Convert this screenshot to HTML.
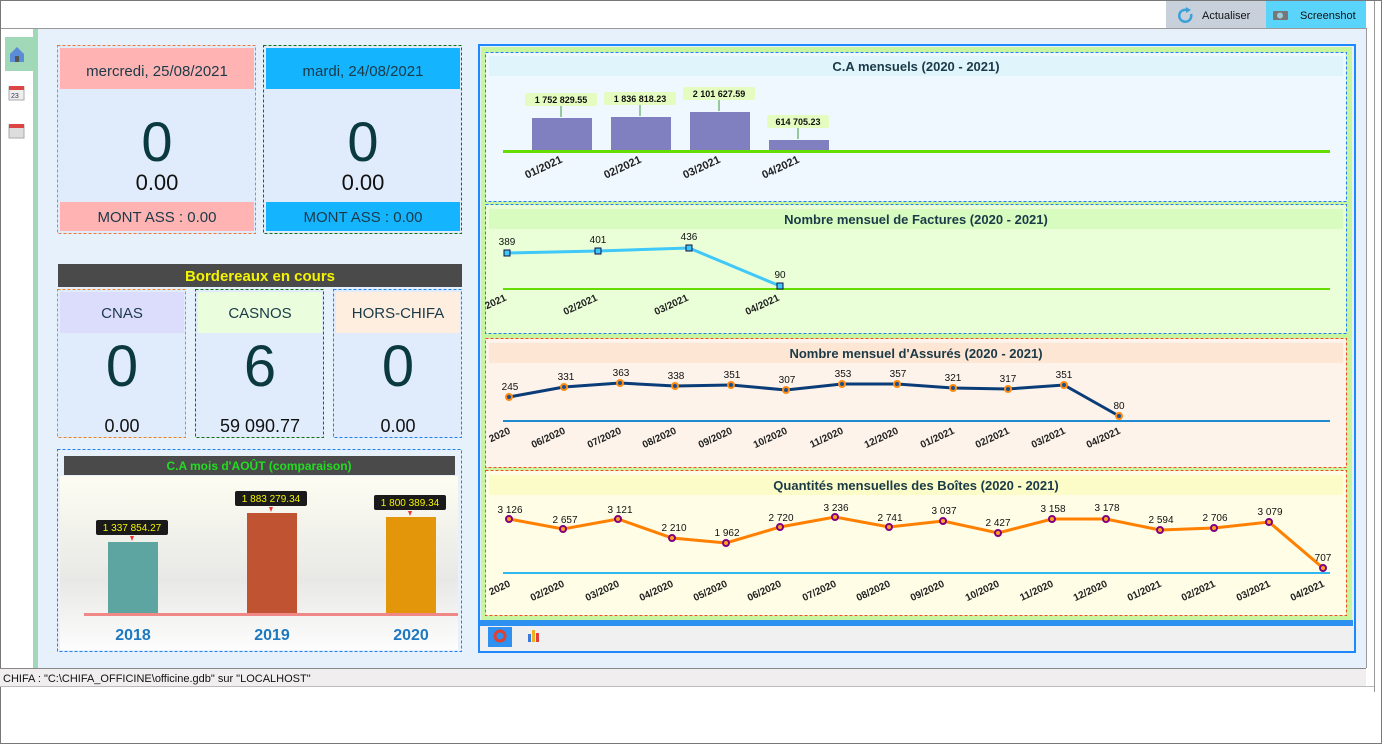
<!DOCTYPE html>
<html><head><meta charset="utf-8"><style>
html,body{margin:0;padding:0;background:#fff;width:1382px;height:744px;overflow:hidden}
svg{display:block;font-family:"Liberation Sans",sans-serif}
.xl{font-size:10px;font-weight:bold;fill:#222}
.xl1{font-size:11px;font-weight:bold;fill:#222}
.vl{font-size:10px;fill:#111}
.tt{font-size:13px;font-weight:bold;fill:#1a3a48}
</style></head><body>
<svg width="1382" height="744" viewBox="0 0 1382 744">
<defs>
<linearGradient id="g1" x1="0" y1="0" x2="0" y2="1"><stop offset="0" stop-color="#fdfdf2"/><stop offset="0.6" stop-color="#e8e8e6"/><stop offset="1" stop-color="#fdfdfd"/></linearGradient>
</defs>
<rect x="0.5" y="0.5" width="1381" height="743" fill="#fff" stroke="#777"/>
<line x1="1" y1="28.5" x2="1366" y2="28.5" stroke="#999"/>
<rect x="1166" y="1" width="100" height="27" fill="#c8d0dc"/>
<rect x="1266" y="1" width="100" height="27" fill="#5ad4fa"/>
<path d="M1187 10 a6 6 0 1 0 4 4" fill="none" stroke="#3aa0d8" stroke-width="2.5"/>
<path d="M1186 7 l5 3 l-5 3z" fill="#3aa0d8"/>
<text x="1202" y="19" font-size="11" fill="#111">Actualiser</text>
<rect x="1273" y="11" width="15" height="9" rx="1" fill="#777"/><circle cx="1280" cy="15.5" r="3" fill="#9cd"/>
<text x="1300" y="19" font-size="11" fill="#111">Screenshot</text>
<line x1="1366.5" y1="28" x2="1366.5" y2="668" stroke="#999"/>
<line x1="1374.5" y1="1" x2="1374.5" y2="692" stroke="#999"/>
<rect x="38" y="29" width="1328" height="639" fill="#e6f1fc"/>
<rect x="33" y="29" width="5" height="639" fill="#a0d8b8"/>
<rect x="5" y="37" width="28" height="34" fill="#a0d8b8"/>
<path d="M10 54 l7 -7 l7 7 v8 h-14z" fill="#5a8cd8"/><rect x="15" y="56" width="4" height="6" fill="#555"/>
<rect x="9" y="87" width="15" height="13" fill="#eee" stroke="#aaa"/><rect x="9" y="86" width="15" height="4" fill="#d44"/><text x="11" y="98" font-size="7" fill="#335">23</text>
<rect x="9" y="125" width="15" height="13" fill="#ddd" stroke="#aaa"/><rect x="9" y="124" width="15" height="4" fill="#d44"/>
<rect x="0" y="668" width="1366" height="18" fill="#f0eeee"/>
<line x1="0" y1="668.5" x2="1366" y2="668.5" stroke="#888"/>
<line x1="0" y1="686.5" x2="1374" y2="686.5" stroke="#bbb"/>
<text x="3" y="682" font-size="11" fill="#111">CHIFA : "C:\CHIFA_OFFICINE\officine.gdb" sur "LOCALHOST"</text>

<rect x="57.5" y="45.5" width="198" height="188" fill="#e0ecfc" stroke="#f07830" stroke-dasharray="3,2"/>
<rect x="60" y="48" width="194" height="41" fill="#ffb3b3"/>
<text x="157" y="76" font-size="15" fill="#1a3a48" text-anchor="middle">mercredi, 25/08/2021</text>
<text x="157" y="161" font-size="56" fill="#0a3a40" text-anchor="middle">0</text>
<text x="157" y="190" font-size="22" fill="#111" text-anchor="middle">0.00</text>
<rect x="60" y="202" width="194" height="29" fill="#ffb3b3"/>
<text x="157" y="222" font-size="15" fill="#1a3a48" text-anchor="middle">MONT ASS : 0.00</text>
<rect x="263.5" y="45.5" width="198" height="188" fill="#e0ecfc" stroke="#107010" stroke-dasharray="3,2"/>
<rect x="266" y="48" width="194" height="41" fill="#14b4ff"/>
<text x="363" y="76" font-size="15" fill="#1a3a48" text-anchor="middle">mardi, 24/08/2021</text>
<text x="363" y="161" font-size="56" fill="#0a3a40" text-anchor="middle">0</text>
<text x="363" y="190" font-size="22" fill="#111" text-anchor="middle">0.00</text>
<rect x="266" y="202" width="194" height="29" fill="#14b4ff"/>
<text x="363" y="222" font-size="15" fill="#1a3a48" text-anchor="middle">MONT ASS : 0.00</text>

<rect x="58" y="264" width="404" height="23" fill="#4a4a4a"/>
<text x="260" y="281" font-size="15" font-weight="bold" fill="#f4f400" text-anchor="middle">Bordereaux en cours</text>
<rect x="57.5" y="289.5" width="128" height="148" fill="#e0ecfc" stroke="#f08020" stroke-dasharray="3,2"/>
<rect x="60" y="292" width="124" height="41" fill="#dcdcfc"/>
<text x="122" y="318" font-size="15" fill="#1a3a48" text-anchor="middle">CNAS</text>
<text x="122" y="386" font-size="58" fill="#0a3a40" text-anchor="middle">0</text>
<text x="122" y="432" font-size="18" fill="#111" text-anchor="middle">0.00</text>
<rect x="195.5" y="289.5" width="128" height="148" fill="#e0ecfc" stroke="#107010" stroke-dasharray="3,2"/>
<rect x="198" y="292" width="124" height="41" fill="#eafddc"/>
<text x="260" y="318" font-size="15" fill="#1a3a48" text-anchor="middle">CASNOS</text>
<text x="260" y="386" font-size="58" fill="#0a3a40" text-anchor="middle">6</text>
<text x="260" y="432" font-size="18" fill="#111" text-anchor="middle">59 090.77</text>
<rect x="333.5" y="289.5" width="128" height="148" fill="#e0ecfc" stroke="#2080f0" stroke-dasharray="3,2"/>
<rect x="336" y="292" width="124" height="41" fill="#fdeee0"/>
<text x="398" y="318" font-size="15" fill="#1a3a48" text-anchor="middle">HORS-CHIFA</text>
<text x="398" y="386" font-size="58" fill="#0a3a40" text-anchor="middle">0</text>
<text x="398" y="432" font-size="18" fill="#111" text-anchor="middle">0.00</text>

<rect x="57.5" y="449.5" width="404" height="202" fill="#e6f1fc" stroke="#2080f0" stroke-dasharray="3,2"/>
<rect x="60" y="476" width="398" height="174" fill="url(#g1)"/>
<rect x="64" y="456" width="391" height="19" fill="#4a4a4a"/>
<text x="259" y="470" font-size="12" font-weight="bold" fill="#22dd22" text-anchor="middle">C.A mois d'AOÛT (comparaison)</text>
<rect x="108" y="542" width="50" height="72" fill="#5ca5a0"/>
<rect x="247" y="513" width="50" height="101" fill="#c05432"/>
<rect x="386" y="517" width="50" height="97" fill="#e4960a"/>
<rect x="84" y="613" width="374" height="3" fill="#f08888"/>
<g font-size="10" fill="#f4f400" text-anchor="middle">
<rect x="96" y="520" width="72" height="15" rx="2" fill="#1a1a1a"/><text x="132" y="531">1 337 854.27</text>
<rect x="235" y="491" width="72" height="15" rx="2" fill="#1a1a1a"/><text x="271" y="502">1 883 279.34</text>
<rect x="374" y="495" width="72" height="15" rx="2" fill="#1a1a1a"/><text x="410" y="506">1 800 389.34</text>
</g>
<g fill="#ee3333"><path d="M130 536h4l-2 5z"/><path d="M269 507h4l-2 5z"/><path d="M408 511h4l-2 5z"/></g>
<g font-size="16" font-weight="bold" fill="#1e78c0" text-anchor="middle">
<text x="133" y="640">2018</text><text x="272" y="640">2019</text><text x="411" y="640">2020</text></g>

<rect x="479" y="45" width="876" height="607" fill="#e6f1fc" stroke="#1e88ff" stroke-width="2"/>
<rect x="481" y="47" width="871" height="573" fill="#c8f5a0"/>
<rect x="480" y="620" width="873" height="6" fill="#2e90f0"/>
<rect x="480" y="626" width="873" height="25" fill="#f0f0f0"/>
<rect x="488" y="627" width="24" height="20" fill="#2e90f0"/>
<circle cx="500" cy="636" r="5" fill="none" stroke="#e04030" stroke-width="3"/>
<rect x="528" y="634" width="3" height="8" fill="#3a7ad8"/><rect x="532" y="630" width="3" height="12" fill="#f0b020"/><rect x="536" y="633" width="3" height="9" fill="#e04040"/>

<rect x="485.5" y="52.5" width="861" height="149" fill="#f0f8ff" stroke="#2080f0" stroke-dasharray="3,2"/>
<rect x="489" y="56" width="854" height="20" fill="#e0f4fc"/>
<text x="916" y="71" class="tt" text-anchor="middle">C.A mensuels (2020 - 2021)</text>
<g fill="#8080c0"><rect x="532" y="118" width="60" height="33"/><rect x="611" y="117" width="60" height="34"/><rect x="690" y="112" width="60" height="39"/><rect x="769" y="140" width="60" height="11"/></g>
<rect x="503" y="150" width="827" height="3" fill="#66dd00"/>
<g fill="#e4fcc0"><rect x="525" y="93" width="72" height="13" rx="2"/><rect x="604" y="92" width="72" height="13" rx="2"/><rect x="683" y="87" width="72" height="13" rx="2"/><rect x="767" y="115" width="62" height="13" rx="2"/></g>
<g font-size="9" font-weight="bold" fill="#111" text-anchor="middle"><text x="561" y="103">1 752 829.55</text><text x="640" y="102">1 836 818.23</text><text x="719" y="97">2 101 627.59</text><text x="798" y="125">614 705.23</text></g>
<g stroke="#3a9a3a"><line x1="561" y1="106" x2="561" y2="117"/><line x1="640" y1="105" x2="640" y2="116"/><line x1="719" y1="100" x2="719" y2="111"/><line x1="798" y1="128" x2="798" y2="139"/></g>
<g class="xl1" text-anchor="end"><text transform="translate(563,162) rotate(-25)">01/2021</text><text transform="translate(642,162) rotate(-25)">02/2021</text><text transform="translate(721,162) rotate(-25)">03/2021</text><text transform="translate(800,162) rotate(-25)">04/2021</text></g>

<rect x="485.5" y="204.5" width="861" height="129" fill="#eaffd8" stroke="#2080f0" stroke-dasharray="3,2"/>
<rect x="489" y="209" width="854" height="20" fill="#d8fcc0"/>
<text x="916" y="224" class="tt" text-anchor="middle">Nombre mensuel de Factures (2020 - 2021)</text>
<rect x="503" y="288" width="827" height="2" fill="#66dd00"/>
<polyline points="507,253 598,251 689,248 780,286" fill="none" stroke="#40c8f8" stroke-width="3"/>
<g fill="#40c8f8" stroke="#114" stroke-width="1"><rect x="504" y="250" width="6" height="6"/><rect x="595" y="248" width="6" height="6"/><rect x="686" y="245" width="6" height="6"/><rect x="777" y="283" width="6" height="6"/></g>
<g class="vl" text-anchor="middle"><text x="507" y="245">389</text><text x="598" y="243">401</text><text x="689" y="240">436</text><text x="780" y="278">90</text></g>
<g class="xl" text-anchor="end"><text transform="translate(507,300) rotate(-25)">2021</text><text transform="translate(598,300) rotate(-25)">02/2021</text><text transform="translate(689,300) rotate(-25)">03/2021</text><text transform="translate(780,300) rotate(-25)">04/2021</text></g>

<rect x="485.5" y="338.5" width="861" height="129" fill="#fdf3ea" stroke="#f05020" stroke-dasharray="3,2"/>
<rect x="489" y="343" width="854" height="20" fill="#fde6d4"/>
<text x="916" y="358" class="tt" text-anchor="middle">Nombre mensuel d'Assurés (2020 - 2021)</text>
<rect x="503" y="420" width="827" height="2" fill="#1e8ad0"/>
<polyline points="509,397 564,387 620,383 675,386 731,385 786,390 842,384 897,384 953,388 1008,389 1064,385 1119,416" fill="none" stroke="#0a3c78" stroke-width="3"/>
<g fill="#1e5090" stroke="#ff8c10" stroke-width="2"><circle cx="509" cy="397" r="3"/><circle cx="564" cy="387" r="3"/><circle cx="620" cy="383" r="3"/><circle cx="675" cy="386" r="3"/><circle cx="731" cy="385" r="3"/><circle cx="786" cy="390" r="3"/><circle cx="842" cy="384" r="3"/><circle cx="897" cy="384" r="3"/><circle cx="953" cy="388" r="3"/><circle cx="1008" cy="389" r="3"/><circle cx="1064" cy="385" r="3"/><circle cx="1119" cy="416" r="3"/></g>
<g class="vl" text-anchor="middle"><text x="510" y="390">245</text><text x="566" y="380">331</text><text x="621" y="376">363</text><text x="676" y="379">338</text><text x="732" y="378">351</text><text x="787" y="383">307</text><text x="843" y="377">353</text><text x="898" y="377">357</text><text x="953" y="381">321</text><text x="1008" y="382">317</text><text x="1064" y="378">351</text><text x="1119" y="409">80</text></g>
<g class="xl" text-anchor="end"><text transform="translate(511,433) rotate(-25)">2020</text><text transform="translate(566,433) rotate(-25)">06/2020</text><text transform="translate(622,433) rotate(-25)">07/2020</text><text transform="translate(677,433) rotate(-25)">08/2020</text><text transform="translate(733,433) rotate(-25)">09/2020</text><text transform="translate(788,433) rotate(-25)">10/2020</text><text transform="translate(844,433) rotate(-25)">11/2020</text><text transform="translate(899,433) rotate(-25)">12/2020</text><text transform="translate(955,433) rotate(-25)">01/2021</text><text transform="translate(1010,433) rotate(-25)">02/2021</text><text transform="translate(1066,433) rotate(-25)">03/2021</text><text transform="translate(1121,433) rotate(-25)">04/2021</text></g>

<rect x="485.5" y="470.5" width="861" height="145" fill="#fffde6" stroke="#f05020" stroke-dasharray="3,2"/>
<rect x="489" y="475" width="854" height="20" fill="#fcfcc8"/>
<text x="916" y="490" class="tt" text-anchor="middle">Quantités mensuelles des Boîtes (2020 - 2021)</text>
<rect x="503" y="572" width="827" height="2" fill="#30b8f0"/>
<polyline points="509,519 563,529 618,519 672,538 726,543 780,527 835,517 889,527 943,521 998,533 1052,519 1106,519 1160,530 1214,528 1269,522 1323,568" fill="none" stroke="#ff8000" stroke-width="3"/>
<g fill="#ffa020" stroke="#800080" stroke-width="2"><circle cx="509" cy="519" r="3"/><circle cx="563" cy="529" r="3"/><circle cx="618" cy="519" r="3"/><circle cx="672" cy="538" r="3"/><circle cx="726" cy="543" r="3"/><circle cx="780" cy="527" r="3"/><circle cx="835" cy="517" r="3"/><circle cx="889" cy="527" r="3"/><circle cx="943" cy="521" r="3"/><circle cx="998" cy="533" r="3"/><circle cx="1052" cy="519" r="3"/><circle cx="1106" cy="519" r="3"/><circle cx="1160" cy="530" r="3"/><circle cx="1214" cy="528" r="3"/><circle cx="1269" cy="522" r="3"/><circle cx="1323" cy="568" r="3"/></g>
<g class="vl" text-anchor="middle"><text x="510" y="513">3 126</text><text x="565" y="523">2 657</text><text x="620" y="513">3 121</text><text x="674" y="531">2 210</text><text x="727" y="536">1 962</text><text x="781" y="521">2 720</text><text x="836" y="511">3 236</text><text x="890" y="521">2 741</text><text x="944" y="514">3 037</text><text x="998" y="526">2 427</text><text x="1053" y="512">3 158</text><text x="1107" y="511">3 178</text><text x="1161" y="523">2 594</text><text x="1215" y="521">2 706</text><text x="1270" y="515">3 079</text><text x="1323" y="561">707</text></g>
<g class="xl" text-anchor="end"><text transform="translate(511,586) rotate(-25)">2020</text><text transform="translate(565,586) rotate(-25)">02/2020</text><text transform="translate(620,586) rotate(-25)">03/2020</text><text transform="translate(674,586) rotate(-25)">04/2020</text><text transform="translate(728,586) rotate(-25)">05/2020</text><text transform="translate(782,586) rotate(-25)">06/2020</text><text transform="translate(837,586) rotate(-25)">07/2020</text><text transform="translate(891,586) rotate(-25)">08/2020</text><text transform="translate(945,586) rotate(-25)">09/2020</text><text transform="translate(1000,586) rotate(-25)">10/2020</text><text transform="translate(1054,586) rotate(-25)">11/2020</text><text transform="translate(1108,586) rotate(-25)">12/2020</text><text transform="translate(1162,586) rotate(-25)">01/2021</text><text transform="translate(1216,586) rotate(-25)">02/2021</text><text transform="translate(1271,586) rotate(-25)">03/2021</text><text transform="translate(1325,586) rotate(-25)">04/2021</text></g>
</svg>
</body></html>
